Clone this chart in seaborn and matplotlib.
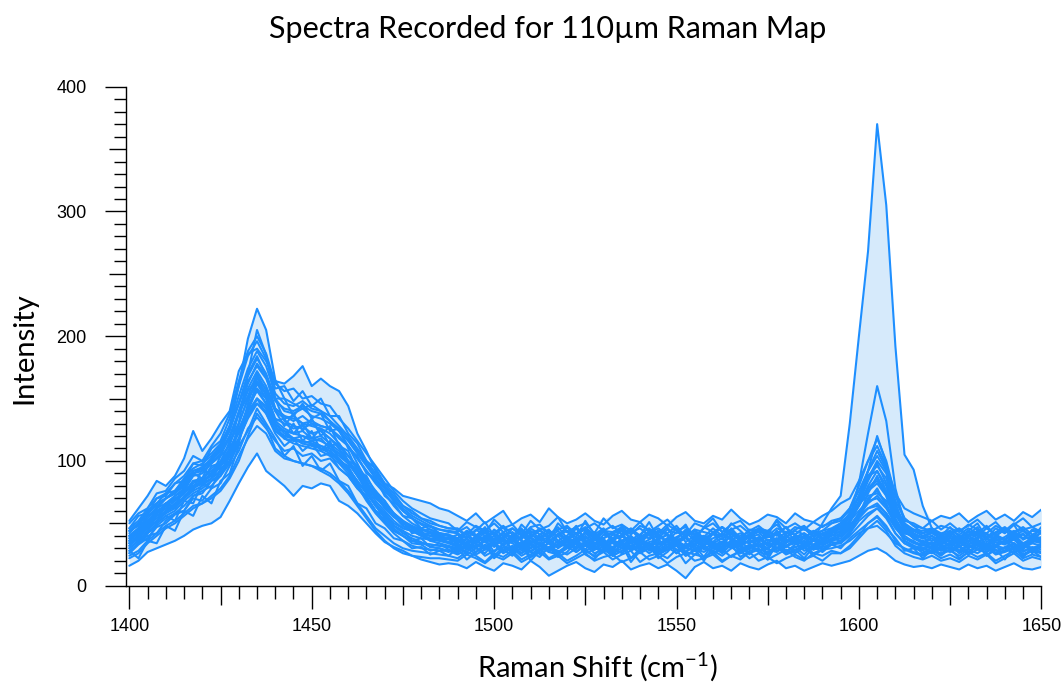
import numpy as np
import pandas as pd
import matplotlib
matplotlib.use("Agg")
import matplotlib.pyplot as plt
import seaborn as sns
from matplotlib.ticker import MultipleLocator, FuncFormatter

# ---------------- data ----------------
raman_shift = np.linspace(1400, 1650, 101)   # cm^-1, 2.5 cm^-1 sampling

spec_A = [36, 42, 50, 58, 64, 70, 74, 84, 84, 90, 98, 108, 124, 142, 158, 150, 132, 126, 122, 120,
          118, 116, 112, 106, 98, 88, 78, 68, 60, 52, 46, 44, 41, 40, 38, 37,
          34, 38, 31, 36, 40, 33, 37, 30, 35, 39, 34, 31, 37, 35, 40, 32, 36, 34, 30, 38,
          35, 33, 37, 41, 34, 31, 36, 39, 33, 35, 30, 37, 34, 38, 32, 36, 40, 35, 33, 37, 50, 62,
          72, 130, 200, 268, 370, 305, 192, 105, 93, 64, 46, 40,
          36, 33, 38, 35, 31, 37, 34, 39, 33, 36, 35]
spec_B = [42, 50, 58, 66, 70, 76, 84, 92, 95, 102, 112, 128, 160, 198, 222, 205, 165, 150, 146, 142,
          145, 140, 132, 124, 112, 98, 84, 72, 62, 55, 50, 46, 44, 45, 42, 40,
          38, 44, 41, 36, 45, 40, 43, 37, 46, 41, 39, 44, 36, 42, 47, 40, 38, 43, 45, 37,
          41, 46, 39, 36, 43, 40, 44, 38, 42, 47, 41, 37, 40, 45, 39, 43, 38, 44, 41, 36, 42, 45,
          48, 58, 72, 88, 92, 76, 58, 48, 44, 42, 45, 40,
          43, 38, 44, 40, 46, 41, 37, 43, 45, 39, 42]
spec_C = [30, 36, 44, 52, 58, 62, 70, 76, 80, 86, 92, 104, 130, 170, 205, 185, 150, 132, 128, 126,
          130, 124, 118, 110, 100, 88, 76, 64, 54, 46, 40, 36, 34, 33, 32, 31,
          28, 33, 30, 26, 34, 29, 31, 35, 27, 32, 30, 25, 33, 29, 36, 31, 27, 30, 34, 28,
          32, 26, 31, 35, 29, 27, 33, 30, 28, 34, 31, 26, 30, 33, 29, 27, 32, 35, 28, 31, 36, 42,
          46, 55, 82, 122, 160, 132, 78, 50, 38, 34, 30, 33,
          29, 32, 27, 31, 34, 28, 30, 33, 27, 31, 29]
spec_D = [16, 20, 27, 30, 33, 36, 40, 45, 48, 50, 55, 68, 82, 95, 106, 92, 86, 80, 72, 80,
          78, 82, 80, 68, 64, 58, 50, 42, 35, 31, 28, 24, 21, 19, 17, 18,
          17, 14, 19, 15, 12, 18, 16, 13, 20, 15, 8, 12, 16, 19, 14, 11, 17, 15, 20, 13,
          16, 18, 14, 17, 12, 6, 15, 19, 14, 16, 12, 18, 15, 13, 17, 20, 14, 16, 12, 15, 18, 16,
          18, 20, 24, 28, 30, 26, 20, 17, 15, 16, 14, 17,
          15, 13, 17, 14, 16, 12, 15, 18, 14, 13, 15]
spec_E = [24, 28, 36, 42, 48, 52, 58, 64, 66, 72, 78, 88, 104, 118, 128, 122, 108, 102, 100, 98,
          96, 94, 90, 84, 76, 66, 56, 46, 40, 34, 30, 28, 27, 26, 25, 24,
          22, 27, 24, 19, 26, 23, 28, 21, 25, 30, 22, 26, 20, 24, 29, 23, 27, 21, 25, 28,
          19, 24, 26, 22, 29, 18, 25, 23, 27, 20, 24, 28, 22, 26, 21, 25, 29, 23, 20, 26, 24, 28,
          26, 32, 40, 50, 56, 48, 36, 29, 26, 24, 27, 22,
          25, 21, 27, 23, 26, 20, 24, 28, 22, 25, 23]
spec_F = [34, 40, 48, 54, 60, 66, 70, 78, 82, 86, 96, 104, 118, 136, 150, 142, 126, 120, 118, 116,
          114, 112, 108, 102, 94, 84, 74, 64, 56, 48, 44, 40, 38, 37, 36, 35,
          32, 37, 34, 29, 38, 33, 36, 31, 39, 34, 30, 36, 33, 38, 35, 29, 34, 37, 32, 36,
          39, 31, 35, 33, 37, 30, 34, 38, 32, 35, 31, 36, 34, 39, 33, 30, 35, 37, 32, 36, 34, 38,
          42, 52, 68, 92, 120, 98, 62, 44, 38, 35, 33, 36,
          33, 37, 31, 35, 38, 32, 36, 34, 30, 35, 37]
spec_G = [40, 46, 56, 62, 70, 74, 80, 90, 92, 98, 106, 118, 140, 162, 178, 168, 142, 136, 134, 130,
          128, 126, 122, 114, 104, 94, 82, 72, 64, 56, 50, 47, 45, 43, 42, 41,
          38, 43, 40, 46, 36, 42, 39, 45, 41, 37, 44, 40, 47, 38, 42, 36, 43, 41, 39, 45,
          37, 42, 46, 40, 38, 44, 41, 36, 43, 47, 39, 42, 38, 45, 40, 37, 43, 41, 46, 39, 42, 44,
          48, 54, 68, 86, 100, 90, 62, 48, 44, 40, 43, 38,
          41, 45, 39, 43, 37, 42, 46, 40, 44, 38, 47]
spec_H = [30, 36, 42, 50, 56, 60, 68, 74, 78, 84, 90, 100, 116, 142, 162, 150, 130, 122, 118, 114,
          112, 110, 106, 100, 92, 82, 70, 60, 52, 44, 40, 36, 34, 33, 32, 31,
          29, 33, 27, 31, 35, 28, 32, 26, 30, 34, 29, 27, 32, 35, 28, 31, 33, 26, 30, 34,
          29, 32, 27, 31, 35, 30, 28, 33, 26, 31, 34, 29, 32, 28, 30, 35, 27, 31, 33, 29, 32, 36,
          40, 46, 56, 66, 72, 64, 48, 36, 32, 30, 28, 31,
          30, 27, 32, 29, 33, 26, 31, 34, 28, 30, 32]
spec_I = [52, 62, 72, 84, 80, 88, 102, 124, 108, 118, 130, 140, 172, 186, 190, 180, 164, 162, 168, 176,
          160, 166, 160, 156, 144, 122, 108, 92, 82, 78, 72, 70, 68, 66, 62, 60,
          56, 52, 58, 50, 55, 60, 49, 54, 57, 51, 62, 55, 50, 53, 58, 52, 49, 56, 60, 53,
          51, 57, 54, 48, 55, 59, 52, 50, 56, 53, 61, 54, 49, 52, 57, 55, 50, 58, 53, 51, 56, 60,
          66, 70, 84, 100, 112, 96, 74, 62, 58, 55, 52, 56,
          54, 58, 51, 56, 60, 53, 57, 52, 59, 55, 61]
spec_J = [22, 26, 34, 40, 46, 50, 56, 62, 66, 70, 76, 86, 100, 120, 138, 128, 110, 104, 100, 98,
          96, 92, 88, 82, 74, 64, 54, 44, 36, 30, 26, 24, 23, 22, 22, 21,
          20, 25, 22, 18, 24, 21, 26, 19, 23, 27, 21, 24, 18, 22, 26, 20, 23, 25, 19, 22,
          27, 21, 24, 18, 23, 26, 20, 22, 25, 19, 24, 21, 27, 20, 23, 18, 22, 25, 21, 24, 20, 26,
          26, 30, 38, 46, 52, 44, 32, 26, 23, 21, 24, 20,
          22, 19, 24, 21, 25, 18, 22, 26, 20, 23, 21]
spec_K = [38, 44, 52, 58, 66, 68, 76, 82, 86, 92, 98, 110, 122, 138, 146, 140, 124, 118, 116, 116,
          114, 110, 108, 100, 94, 84, 74, 66, 58, 50, 46, 44, 42, 40, 39, 38,
          36, 40, 34, 39, 42, 35, 38, 33, 41, 37, 35, 40, 44, 36, 39, 34, 38, 42, 36, 40,
          33, 37, 41, 35, 39, 43, 36, 34, 38, 41, 37, 35, 40, 43, 36, 38, 34, 39, 42, 37, 35, 40,
          44, 52, 64, 76, 82, 72, 54, 42, 40, 38, 36, 40,
          36, 40, 35, 39, 42, 37, 34, 38, 41, 36, 39]
spec_L = [28, 34, 42, 48, 54, 58, 64, 72, 76, 80, 88, 98, 114, 146, 168, 152, 128, 118, 114, 112,
          110, 108, 104, 98, 90, 80, 68, 58, 50, 42, 36, 32, 30, 29, 28, 28,
          27, 31, 25, 29, 33, 26, 30, 24, 28, 32, 27, 25, 30, 34, 26, 29, 31, 24, 28, 32,
          26, 30, 25, 29, 33, 27, 25, 31, 28, 24, 30, 33, 26, 29, 27, 31, 25, 28, 32, 26, 29, 33,
          34, 40, 48, 56, 62, 54, 42, 34, 30, 28, 26, 30,
          27, 31, 25, 29, 32, 26, 28, 31, 25, 29, 27]
spec_M1 = [26, 33, 38, 47, 50, 57, 60, 70, 68, 78, 82, 96, 108, 126, 135, 126, 116, 108, 110, 104,
           106, 100, 102, 94, 88, 78, 72, 60, 56, 48, 42, 38, 35, 31, 30, 28,
           25, 29, 31, 24, 28, 33, 26, 30, 27, 23, 31, 28, 25, 30, 33, 26, 29, 24, 28, 31,
           27, 30, 25, 29, 32, 24, 28, 31, 26, 29, 23, 28, 32, 27, 25, 30, 28, 26, 31, 24, 29, 30,
           32, 36, 42, 46, 48, 42, 34, 30, 27, 25, 28, 26,
           28, 24, 29, 26, 31, 25, 27, 30, 24, 28, 26]
spec_M2 = [32, 38, 46, 52, 60, 63, 72, 78, 84, 88, 96, 110, 124, 140, 150, 144, 126, 124, 118, 120,
           116, 118, 110, 106, 98, 90, 80, 70, 64, 56, 48, 44, 40, 36, 34, 32,
           30, 27, 33, 29, 35, 28, 31, 26, 33, 30, 28, 34, 31, 27, 32, 29, 35, 30, 26, 32,
           29, 33, 28, 31, 26, 34, 30, 27, 32, 29, 35, 28, 31, 33, 26, 30, 32, 28, 34, 29, 31, 33,
           36, 42, 52, 58, 62, 56, 42, 34, 31, 29, 32, 28,
           31, 28, 33, 29, 27, 32, 30, 26, 33, 29, 31]
spec_M3 = [34, 40, 50, 56, 62, 68, 74, 84, 86, 94, 100, 114, 130, 150, 162, 154, 134, 130, 126, 128,
           122, 124, 118, 112, 104, 96, 86, 76, 68, 58, 52, 46, 42, 40, 37, 35,
           33, 29, 36, 31, 34, 28, 37, 32, 30, 35, 27, 33, 36, 30, 34, 31, 28, 35, 32, 37,
           30, 34, 29, 33, 36, 31, 28, 34, 32, 30, 36, 29, 33, 31, 35, 28, 32, 34, 30, 36, 33, 37,
           40, 48, 58, 70, 76, 66, 50, 40, 35, 33, 31, 35,
           32, 35, 30, 34, 29, 33, 36, 31, 34, 30, 33]
spec_M4 = [36, 44, 50, 60, 64, 72, 76, 88, 90, 98, 104, 120, 138, 158, 172, 160, 142, 136, 132, 136,
           130, 128, 126, 118, 112, 102, 92, 82, 74, 64, 56, 50, 46, 42, 40, 38,
           36, 31, 35, 39, 32, 37, 34, 30, 38, 33, 36, 40, 31, 35, 33, 38, 30, 36, 34, 39,
           32, 35, 37, 31, 34, 38, 33, 36, 30, 35, 39, 33, 36, 32, 37, 34, 31, 38, 35, 33, 37, 40,
           44, 52, 64, 80, 92, 80, 58, 44, 38, 36, 34, 37,
           35, 38, 33, 36, 31, 37, 34, 39, 32, 36, 34]
spec_M5 = [38, 46, 54, 62, 70, 74, 82, 92, 94, 100, 110, 124, 146, 168, 182, 170, 150, 140, 138, 142,
           136, 134, 130, 124, 116, 106, 96, 86, 78, 68, 60, 54, 49, 45, 42, 40,
           37, 33, 40, 35, 38, 32, 41, 36, 34, 39, 37, 31, 38, 42, 35, 39, 33, 37, 40, 34,
           36, 41, 33, 38, 35, 30, 37, 40, 34, 38, 32, 36, 39, 35, 41, 33, 37, 34, 39, 36, 38, 42,
           46, 56, 72, 92, 108, 94, 66, 48, 42, 38, 40, 36,
           38, 35, 40, 36, 33, 39, 37, 41, 34, 38, 36]
spec_M6 = [40, 46, 52, 60, 64, 70, 74, 80, 84, 88, 96, 106, 118, 134, 146, 138, 124, 120, 118, 114,
           116, 112, 110, 104, 98, 90, 82, 72, 66, 58, 52, 48, 45, 43, 41, 40,
           38, 42, 35, 40, 37, 43, 36, 39, 44, 38, 35, 41, 38, 36, 42, 39, 45, 37, 40, 34,
           39, 43, 37, 41, 36, 40, 44, 38, 35, 42, 37, 40, 43, 36, 39, 41, 35, 38, 42, 37, 40, 43,
           46, 52, 60, 68, 70, 62, 50, 44, 41, 39, 42, 38,
           40, 37, 43, 38, 41, 36, 39, 44, 37, 40, 38]
spec_M7 = [44, 50, 60, 66, 74, 76, 86, 94, 98, 104, 112, 128, 152, 174, 188, 176, 154, 146, 144, 148,
           142, 140, 136, 128, 120, 110, 100, 90, 80, 70, 62, 56, 52, 48, 45, 43,
           42, 38, 45, 40, 43, 37, 46, 41, 39, 44, 40, 47, 38, 42, 45, 39, 43, 36, 41, 46,
           40, 38, 44, 41, 37, 45, 42, 39, 46, 40, 43, 38, 41, 45, 39, 42, 47, 40, 38, 44, 41, 45,
           50, 58, 72, 88, 96, 86, 62, 50, 45, 42, 44, 40,
           42, 46, 40, 44, 39, 43, 47, 41, 38, 44, 42]
spec_M8 = [44, 48, 58, 64, 70, 76, 82, 90, 94, 100, 108, 120, 138, 156, 166, 158, 140, 134, 136, 130,
           132, 128, 126, 120, 112, 102, 92, 84, 76, 68, 60, 54, 50, 47, 45, 44,
           43, 47, 40, 45, 42, 48, 41, 44, 39, 46, 43, 40, 47, 42, 45, 38, 44, 48, 41, 43,
           46, 40, 44, 42, 48, 39, 45, 43, 41, 47, 42, 38, 45, 44, 40, 46, 43, 41, 47, 42, 44, 46,
           50, 56, 66, 78, 86, 76, 58, 48, 45, 44, 46, 42,
           44, 41, 46, 42, 48, 40, 45, 43, 47, 41, 44]
spec_M9 = [46, 52, 62, 70, 74, 82, 88, 98, 100, 106, 114, 128, 146, 164, 176, 166, 148, 142, 140, 144,
           140, 138, 132, 126, 118, 108, 98, 88, 80, 72, 64, 58, 54, 50, 48, 46,
           45, 41, 48, 44, 50, 43, 46, 40, 47, 49, 42, 45, 48, 41, 46, 50, 44, 43, 47, 41,
           48, 45, 42, 49, 44, 47, 40, 46, 50, 43, 45, 48, 42, 46, 44, 49, 41, 47, 45, 43, 48, 50,
           54, 62, 76, 92, 104, 92, 68, 54, 48, 46, 44, 48,
           46, 43, 49, 45, 42, 48, 44, 50, 45, 47, 43]
spec_M10 = [32, 40, 46, 56, 58, 66, 70, 80, 82, 90, 96, 108, 124, 144, 156, 146, 130, 124, 122, 124,
            118, 120, 114, 108, 100, 92, 82, 72, 64, 56, 48, 44, 40, 38, 36, 34,
            31, 35, 38, 30, 34, 37, 29, 33, 36, 32, 38, 30, 35, 33, 29, 37, 34, 31, 36, 39,
            30, 33, 35, 28, 36, 32, 34, 38, 30, 33, 35, 31, 37, 33, 29, 36, 32, 35, 38, 31, 34, 36,
            38, 46, 54, 62, 66, 58, 46, 38, 34, 32, 35, 31,
            34, 31, 36, 32, 29, 35, 33, 37, 30, 34, 32]
spec_P1 = [28, 22, 36, 34, 48, 44, 60, 56, 72, 66, 84, 90, 112, 124, 142, 130, 118, 104, 112, 96,
           104, 92, 98, 84, 80, 66, 62, 50, 46, 38, 36, 30, 31, 25, 28, 24,
           30, 21, 27, 33, 22, 29, 24, 34, 20, 28, 31, 23, 27, 35, 25, 21, 30, 26, 33, 19,
           28, 32, 22, 27, 35, 24, 29, 20, 31, 26, 33, 23, 28, 30, 21, 34, 26, 29, 22, 31, 27, 33,
           30, 38, 44, 50, 55, 46, 38, 28, 30, 22, 29, 24,
           30, 22, 27, 33, 24, 29, 21, 31, 25, 28, 23]
spec_P2 = [34, 40, 36, 50, 56, 52, 68, 66, 82, 78, 94, 100, 126, 140, 158, 146, 128, 118, 130, 116,
           124, 108, 116, 100, 96, 82, 78, 64, 58, 48, 44, 36, 38, 31, 34, 29,
           26, 35, 30, 38, 27, 33, 39, 28, 34, 25, 36, 31, 40, 27, 33, 29, 37, 24, 35, 30,
           38, 28, 33, 36, 26, 31, 39, 29, 34, 27, 37, 32, 25, 35, 30, 38, 27, 33, 36, 29, 34, 38,
           36, 44, 58, 68, 78, 64, 52, 38, 36, 30, 34, 28,
           35, 28, 33, 38, 27, 31, 36, 29, 34, 26, 32]
spec_P3 = [40, 36, 52, 50, 66, 62, 80, 76, 94, 88, 104, 112, 138, 152, 170, 156, 140, 128, 138, 124,
           134, 120, 128, 112, 108, 92, 88, 74, 68, 56, 52, 42, 44, 36, 40, 34,
           38, 30, 36, 43, 32, 39, 28, 41, 34, 37, 29, 42, 35, 31, 44, 33, 38, 27, 40, 36,
           32, 43, 30, 37, 34, 41, 28, 39, 35, 31, 42, 36, 29, 38, 33, 44, 31, 37, 40, 32, 36, 41,
           40, 50, 66, 84, 98, 82, 60, 46, 40, 34, 38, 32,
           39, 31, 36, 42, 30, 38, 34, 41, 29, 37, 35]
spec_P4 = [44, 50, 48, 62, 66, 72, 78, 90, 86, 102, 108, 126, 146, 170, 184, 168, 150, 150, 136, 146,
           134, 138, 124, 126, 110, 104, 90, 86, 72, 66, 56, 54, 46, 48, 42, 41,
           34, 44, 39, 47, 35, 42, 38, 46, 33, 41, 45, 36, 40, 48, 37, 43, 32, 41, 46, 38,
           35, 44, 40, 47, 34, 39, 45, 36, 42, 33, 46, 38, 41, 35, 44, 40, 47, 34, 39, 43, 37, 45,
           46, 56, 64, 78, 84, 74, 56, 48, 42, 38, 44, 36,
           43, 36, 41, 47, 35, 40, 45, 37, 42, 34, 44]
spec_P5 = [46, 56, 58, 70, 72, 82, 84, 98, 96, 110, 116, 134, 160, 184, 196, 182, 158, 160, 148, 156,
           144, 150, 136, 136, 122, 114, 100, 94, 82, 74, 64, 60, 54, 52, 48, 46,
           46, 38, 44, 51, 40, 47, 36, 49, 42, 45, 37, 50, 43, 39, 52, 41, 46, 35, 48, 44,
           40, 51, 38, 45, 42, 49, 36, 47, 43, 39, 50, 44, 37, 46, 41, 52, 39, 45, 48, 40, 44, 50,
           52, 62, 80, 100, 118, 100, 72, 54, 48, 42, 46, 40,
           47, 39, 44, 50, 38, 46, 42, 49, 37, 45, 43]
spec_P6 = [26, 34, 40, 42, 52, 58, 60, 72, 74, 84, 88, 104, 116, 136, 150, 138, 122, 112, 118, 108,
           114, 104, 106, 94, 88, 78, 70, 60, 52, 44, 40, 34, 33, 28, 30, 27,
           32, 25, 30, 36, 24, 31, 27, 35, 23, 29, 34, 26, 31, 37, 28, 24, 33, 29, 36, 22,
           30, 34, 25, 31, 37, 27, 32, 23, 34, 28, 36, 26, 30, 33, 24, 35, 28, 31, 25, 33, 29, 35,
           34, 42, 56, 74, 88, 72, 50, 36, 32, 26, 31, 25,
           33, 26, 30, 35, 24, 31, 28, 34, 23, 30, 27]
spec_P7 = [36, 46, 46, 58, 62, 64, 76, 80, 84, 96, 98, 116, 130, 150, 164, 154, 132, 134, 122, 130,
           118, 126, 112, 114, 100, 96, 80, 76, 64, 58, 50, 46, 42, 42, 38, 38,
           41, 33, 38, 45, 31, 40, 35, 44, 30, 39, 42, 34, 37, 46, 36, 32, 41, 38, 44, 29,
           39, 43, 33, 38, 46, 35, 40, 31, 42, 37, 45, 34, 39, 41, 32, 44, 36, 40, 33, 42, 38, 44,
           42, 48, 56, 62, 64, 58, 48, 42, 40, 34, 40, 33,
           41, 34, 39, 44, 32, 40, 36, 43, 31, 39, 37]
spec_P8 = [50, 58, 62, 74, 76, 86, 92, 104, 100, 112, 122, 138, 164, 188, 200, 186, 162, 156, 158, 150,
           152, 146, 144, 134, 126, 116, 106, 96, 86, 76, 68, 62, 58, 54, 52, 50,
           44, 51, 47, 42, 53, 46, 49, 41, 52, 45, 48, 55, 43, 47, 50, 42, 54, 46, 49, 44,
           51, 43, 48, 53, 45, 41, 50, 47, 54, 43, 49, 52, 44, 48, 42, 53, 46, 50, 45, 51, 47, 52,
           54, 60, 66, 72, 74, 68, 58, 52, 50, 46, 52, 45,
           50, 44, 48, 53, 46, 51, 43, 49, 54, 47, 50]

spectra = {"A": spec_A, "B": spec_B, "C": spec_C, "D": spec_D, "E": spec_E, "F": spec_F,
           "G": spec_G, "H": spec_H, "I": spec_I, "J": spec_J, "K": spec_K, "L": spec_L,
           "M1": spec_M1, "M2": spec_M2, "M3": spec_M3, "M4": spec_M4, "M5": spec_M5,
           "M6": spec_M6, "M7": spec_M7, "M8": spec_M8, "M9": spec_M9, "M10": spec_M10,
           "P1": spec_P1, "P2": spec_P2, "P3": spec_P3, "P4": spec_P4, "P5": spec_P5,
           "P6": spec_P6, "P7": spec_P7, "P8": spec_P8}

x_major_ticks = [1400, 1450, 1500, 1550, 1600, 1650]
y_major_ticks = [0, 100, 200, 300, 400]

TITLE = "Spectra Recorded for 110\u00b5m Raman Map"
XLABEL = r"Raman Shift (cm$^{\mathrm{-1}}$)"
YLABEL = "Intensity"

LINE = "#1E8FFF"
FILL = "#D6EAFB"

# ---------------- build long table ----------------
frames = []
for name, vals in spectra.items():
    frames.append(pd.DataFrame({"shift": raman_shift, "intensity": vals, "spectrum": name}))
df = pd.concat(frames, ignore_index=True)
env = df.groupby("shift")["intensity"].agg(["min", "max"])

# ---------------- figure ----------------
sns.set_style("ticks")
plt.rcParams["font.family"] = ["Liberation Sans", "DejaVu Sans"]
plt.rcParams["text.color"] = "black"
plt.rcParams["xtick.color"] = "black"
plt.rcParams["ytick.color"] = "black"
plt.rcParams["xtick.labelcolor"] = "black"
plt.rcParams["ytick.labelcolor"] = "black"
plt.rcParams["mathtext.fontset"] = "custom"
plt.rcParams["mathtext.rm"] = "Lato"
plt.rcParams["mathtext.it"] = "Lato:italic"
plt.rcParams["mathtext.bf"] = "Lato:bold"

fig = plt.figure(figsize=(10.63, 6.88), dpi=100)
ax = fig.add_axes([125.7 / 1063, 1 - 585.7 / 688, (1041.3 - 125.7) / 1063, (585.7 - 86.7) / 688])

ax.fill_between(env.index, env["min"], env["max"], color=FILL, linewidth=0, zorder=1)
sns.lineplot(data=df, x="shift", y="intensity", units="spectrum", estimator=None,
             color=LINE, linewidth=1.5, ax=ax, zorder=3, legend=False)

ax.set_xlim(1399, 1650)
ax.set_ylim(0, 400)
ax.set_xlabel("")
ax.set_ylabel("")

for s in ["top", "right"]:
    ax.spines[s].set_visible(False)
for s in ["left", "bottom"]:
    ax.spines[s].set_linewidth(1.0)
    ax.spines[s].set_color("black")

ax.xaxis.set_major_locator(MultipleLocator(25))
ax.xaxis.set_minor_locator(MultipleLocator(5))
ax.yaxis.set_major_locator(MultipleLocator(50))
ax.yaxis.set_minor_locator(MultipleLocator(10))
ax.xaxis.set_major_formatter(FuncFormatter(
    lambda v, p: f"{int(round(v))}" if int(round(v)) in x_major_ticks else ""))
ax.yaxis.set_major_formatter(FuncFormatter(
    lambda v, p: f"{int(round(v))}" if int(round(v)) in y_major_ticks else ""))

ax.tick_params(axis="both", which="both", direction="out", width=1.0, color="black",
               labelcolor="black")
ax.tick_params(axis="x", which="major", length=16.5, pad=6.5, labelsize=13)
ax.tick_params(axis="x", which="minor", length=9.4)
ax.tick_params(axis="y", which="major", length=15.1, pad=13, labelsize=13)
ax.tick_params(axis="y", which="minor", length=8.6)

fig.text(547.5 / 1063, 1 - 29 / 688, TITLE, ha="center", va="center", fontsize=22,
         family="Lato", color="black")
fig.text(24 / 1063, 1 - 348 / 688, YLABEL, ha="center", va="center", rotation=90, fontsize=21,
         family="Lato", color="black")
fig.text(597 / 1063, 1 - 667 / 688, XLABEL, ha="center", va="center", fontsize=21,
         family="Lato", color="black")

fig.canvas.draw()
for t in ax.xaxis.get_major_ticks():
    if int(round(t.get_loc())) not in x_major_ticks:
        t.tick1line.set_markersize(13.7)
for t in ax.yaxis.get_major_ticks():
    if int(round(t.get_loc())) not in y_major_ticks:
        t.tick1line.set_markersize(12.2)

fig.savefig("out.png", dpi=100)
